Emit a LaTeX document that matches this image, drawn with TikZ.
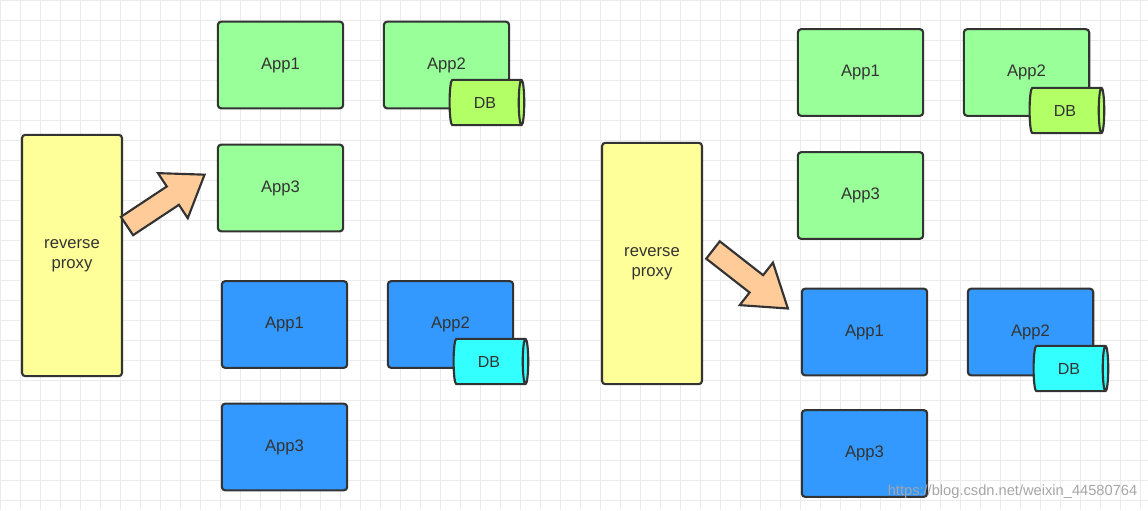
\documentclass[tikz,border=0pt]{standalone}
\usepackage{fontspec}
\setmainfont{Liberation Sans}
\usetikzlibrary{shapes.geometric}
\definecolor{gfill}{HTML}{99FF99}
\definecolor{bfill}{HTML}{3399FF}
\definecolor{yfill}{HTML}{FFFF99}
\definecolor{dbg}{HTML}{B3FF66}
\definecolor{dbc}{HTML}{33FFFF}
\definecolor{arr}{HTML}{FFCC99}
\definecolor{edge}{HTML}{333333}
\begin{document}
\begin{tikzpicture}[x=0.75pt,y=-0.75pt,
  box/.style={draw=edge,line width=1.6pt,rounded corners=2.5pt,inner sep=0pt,font=\fontsize{12.5}{15}\selectfont\color{edge}},
  app/.style={box,minimum width=94pt,minimum height=65pt},
  db/.style={cylinder,shape border rotate=0,aspect=0.5,draw=edge,line width=1.6pt,minimum height=56pt,minimum width=34pt,inner sep=0pt,font=\fontsize{12}{14}\selectfont\color{edge}},
  fat/.style={draw=edge,line width=1.6pt,fill=arr,line join=miter}]
\useasboundingbox (0,0) rectangle (1148,510);
\fill[white] (0,0) rectangle (1148,510);
\foreach \i in {0,20,...,1140} \draw[black!8,line width=0.5pt] (\i,0) -- (\i,510);
\foreach \j in {0,20,...,500} \draw[black!8,line width=0.5pt] (0,\j) -- (1148,\j);
% left
\node[box,fill=yfill,minimum width=75pt,minimum height=181pt,align=center] (p1) at (72,255.5) {reverse\\proxy};
\node[app,fill=gfill] (a1) at (280.5,65) {App1};
\node[app,fill=gfill] (a2) at (446.5,65) {App2};
\node[db,fill=dbg] (d1) at (485,102.5) {DB};
\node[app,fill=gfill] (a3) at (280.5,188) {App3};
\node[app,fill=bfill] (b1) at (284.5,324.5) {App1};
\node[app,fill=bfill] (b2) at (450.5,324.5) {App2};
\node[db,fill=dbc] (d2) at (489,361.5) {DB};
\node[app,fill=bfill] (b3) at (284.5,447) {App3};
\begin{scope}[shift={(127,226)},rotate=33.5]
\draw[fat] (0,-11) -- (55,-11) -- (55,-27) -- (93,0) -- (55,27) -- (55,11) -- (0,11) -- cycle;
\end{scope}
% right
\node[box,fill=yfill,minimum width=75pt,minimum height=181pt,align=center] (p2) at (652,263.5) {reverse\\proxy};
\node[app,fill=gfill] (c1) at (860.5,72.5) {App1};
\node[app,fill=gfill] (c2) at (1026.5,72.5) {App2};
\node[db,fill=dbg] (d3) at (1065,110.5) {DB};
\node[app,fill=gfill] (c3) at (860.5,195.5) {App3};
\node[app,fill=bfill] (e1) at (864.5,332) {App1};
\node[app,fill=bfill] (e2) at (1030.5,332) {App2};
\node[db,fill=dbc] (d4) at (1069,368.5) {DB};
\node[app,fill=bfill] (e3) at (864.5,453.5) {App3};
\begin{scope}[shift={(713,250)},rotate=-38]
\draw[fat] (0,-11) -- (55,-11) -- (55,-27) -- (95,0) -- (55,27) -- (55,11) -- (0,11) -- cycle;
\end{scope}
\node[font=\fontsize{11}{13}\selectfont,text=black!35,anchor=east] (wm) at (1142,492) {https://blog.csdn.net/weixin\_44580764};
\end{tikzpicture}
\end{document}
